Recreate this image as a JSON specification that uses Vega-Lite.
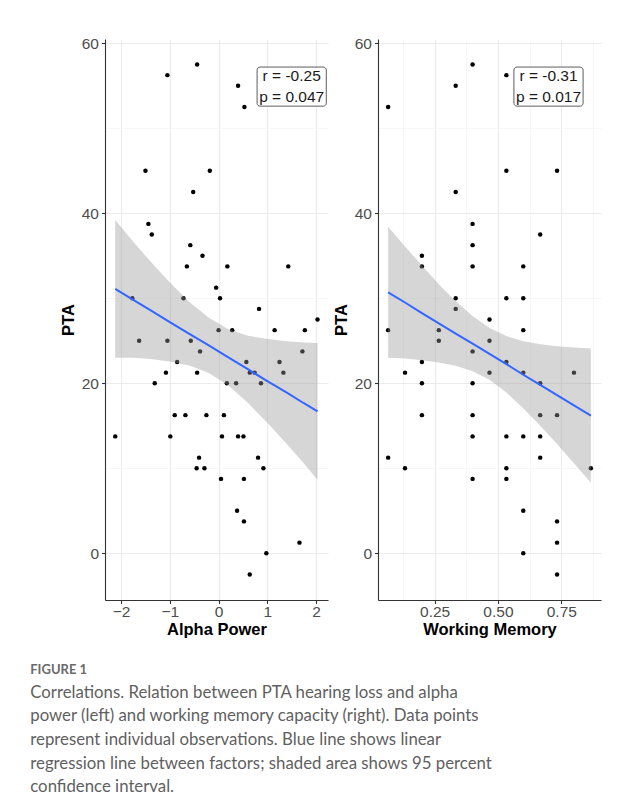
{
  "$schema": "https://vega.github.io/schema/vega-lite/v6.json",
  "background": "white",
  "padding": {"left": 30, "top": 36, "right": 5, "bottom": 10},
  "spacing": 5,
  "title": {
    "text": "FIGURE 1",
    "subtitle": [
      "Correlations. Relation between PTA hearing loss and alpha",
      "power (left) and working memory capacity (right). Data points",
      "represent individual observations. Blue line shows linear",
      "regression line between factors; shaded area shows 95 percent",
      "confidence interval."
    ],
    "orient": "bottom",
    "anchor": "start",
    "dx": -30,
    "offset": 26,
    "font": "Lato",
    "fontSize": 13,
    "fontWeight": "bold",
    "color": "#6a6a6a",
    "subtitleFont": "Lato",
    "subtitleFontSize": 16.8,
    "subtitleColor": "#5f5f5f",
    "subtitleLineHeight": 23.7,
    "subtitlePadding": 8
  },
  "datasets": {
    "alpha": [
      {"alpha": -1.05, "pta": 56.25}, {"alpha": -0.44, "pta": 57.5}, {"alpha": 0.40, "pta": 55},
      {"alpha": 0.53, "pta": 52.5}, {"alpha": -1.50, "pta": 45}, {"alpha": -0.18, "pta": 45},
      {"alpha": -0.52, "pta": 42.5}, {"alpha": -1.44, "pta": 38.75}, {"alpha": -1.37, "pta": 37.5},
      {"alpha": -0.58, "pta": 36.25}, {"alpha": -0.33, "pta": 35}, {"alpha": -0.65, "pta": 33.75},
      {"alpha": 0.18, "pta": 33.75}, {"alpha": 1.43, "pta": 33.75}, {"alpha": -0.05, "pta": 31.25},
      {"alpha": -1.77, "pta": 30}, {"alpha": -0.72, "pta": 30}, {"alpha": 0.03, "pta": 30},
      {"alpha": 0.83, "pta": 28.75}, {"alpha": 2.03, "pta": 27.5}, {"alpha": 0.00, "pta": 26.25},
      {"alpha": 0.28, "pta": 26.25}, {"alpha": 1.15, "pta": 26.25}, {"alpha": 1.77, "pta": 26.25},
      {"alpha": -1.63, "pta": 25}, {"alpha": -1.05, "pta": 25}, {"alpha": -0.57, "pta": 25},
      {"alpha": -0.38, "pta": 23.75}, {"alpha": 1.72, "pta": 23.75}, {"alpha": -0.85, "pta": 22.5},
      {"alpha": 0.57, "pta": 22.5}, {"alpha": 1.25, "pta": 22.5}, {"alpha": -1.08, "pta": 21.25},
      {"alpha": -0.44, "pta": 21.25}, {"alpha": 0.64, "pta": 21.25}, {"alpha": 0.74, "pta": 21.25},
      {"alpha": 1.33, "pta": 21.25}, {"alpha": -1.31, "pta": 20}, {"alpha": 0.17, "pta": 20},
      {"alpha": 0.36, "pta": 20}, {"alpha": 0.87, "pta": 20}, {"alpha": -0.90, "pta": 16.25},
      {"alpha": -0.68, "pta": 16.25}, {"alpha": -0.25, "pta": 16.25}, {"alpha": 0.11, "pta": 16.25},
      {"alpha": -2.12, "pta": 13.75}, {"alpha": -0.99, "pta": 13.75}, {"alpha": 0.07, "pta": 13.75},
      {"alpha": 0.40, "pta": 13.75}, {"alpha": 0.51, "pta": 13.75}, {"alpha": -0.40, "pta": 11.25},
      {"alpha": 0.81, "pta": 11.25}, {"alpha": -0.45, "pta": 10}, {"alpha": -0.29, "pta": 10},
      {"alpha": 0.92, "pta": 10}, {"alpha": 0.05, "pta": 8.75}, {"alpha": 0.52, "pta": 8.75},
      {"alpha": 0.38, "pta": 5}, {"alpha": 0.52, "pta": 3.75}, {"alpha": 1.66, "pta": 1.25},
      {"alpha": 0.98, "pta": 0}, {"alpha": 0.64, "pta": -2.5}
    ],
    "wm": [
      {"wm": 0.0667, "pta": 52.5}, {"wm": 0.3333, "pta": 55}, {"wm": 0.4, "pta": 57.5},
      {"wm": 0.5333, "pta": 56.25}, {"wm": 0.5333, "pta": 45}, {"wm": 0.7333, "pta": 45},
      {"wm": 0.3333, "pta": 42.5}, {"wm": 0.4, "pta": 38.75}, {"wm": 0.6667, "pta": 37.5},
      {"wm": 0.4, "pta": 36.25}, {"wm": 0.2, "pta": 35}, {"wm": 0.2, "pta": 33.75},
      {"wm": 0.4, "pta": 33.75}, {"wm": 0.6, "pta": 33.75}, {"wm": 0.3333, "pta": 30},
      {"wm": 0.5333, "pta": 30}, {"wm": 0.6, "pta": 30}, {"wm": 0.3333, "pta": 28.75},
      {"wm": 0.4667, "pta": 27.5}, {"wm": 0.0667, "pta": 26.25}, {"wm": 0.2667, "pta": 26.25},
      {"wm": 0.6, "pta": 26.25}, {"wm": 0.2667, "pta": 25}, {"wm": 0.4667, "pta": 25},
      {"wm": 0.4, "pta": 23.75}, {"wm": 0.2, "pta": 22.5}, {"wm": 0.5333, "pta": 22.5},
      {"wm": 0.1333, "pta": 21.25}, {"wm": 0.4667, "pta": 21.25}, {"wm": 0.6, "pta": 21.25},
      {"wm": 0.8, "pta": 21.25}, {"wm": 0.2, "pta": 20}, {"wm": 0.4, "pta": 20},
      {"wm": 0.6667, "pta": 20}, {"wm": 0.2, "pta": 16.25}, {"wm": 0.4, "pta": 16.25},
      {"wm": 0.6667, "pta": 16.25}, {"wm": 0.7333, "pta": 16.25}, {"wm": 0.4, "pta": 13.75},
      {"wm": 0.5333, "pta": 13.75}, {"wm": 0.6, "pta": 13.75}, {"wm": 0.6667, "pta": 13.75},
      {"wm": 0.0667, "pta": 11.25}, {"wm": 0.6667, "pta": 11.25}, {"wm": 0.1333, "pta": 10},
      {"wm": 0.5333, "pta": 10}, {"wm": 0.8667, "pta": 10}, {"wm": 0.4, "pta": 8.75},
      {"wm": 0.5333, "pta": 8.75}, {"wm": 0.6, "pta": 5}, {"wm": 0.7333, "pta": 3.75},
      {"wm": 0.7333, "pta": 1.25}, {"wm": 0.6, "pta": 0}, {"wm": 0.7333, "pta": -2.5}
    ],
    "fitA": [
      {"x": -2.12, "fit": 31.1, "lo": 23.0, "hi": 39.2},
      {"x": -1.75, "fit": 29.8, "lo": 23.0, "hi": 36.65},
      {"x": -1.4, "fit": 28.6, "lo": 22.85, "hi": 34.35},
      {"x": -1.0, "fit": 27.2, "lo": 22.55, "hi": 31.85},
      {"x": -0.6, "fit": 25.8, "lo": 22.1, "hi": 29.55},
      {"x": -0.2, "fit": 24.45, "lo": 21.2, "hi": 27.7},
      {"x": 0.2, "fit": 23.05, "lo": 19.75, "hi": 26.35},
      {"x": 0.6, "fit": 21.65, "lo": 17.7, "hi": 25.6},
      {"x": 1.0, "fit": 20.25, "lo": 15.35, "hi": 25.2},
      {"x": 1.4, "fit": 18.9, "lo": 12.85, "hi": 24.95},
      {"x": 1.75, "fit": 17.65, "lo": 10.55, "hi": 24.8},
      {"x": 2.03, "fit": 16.7, "lo": 8.65, "hi": 24.75}
    ],
    "fitW": [
      {"x": 0.0667, "fit": 30.7, "lo": 23.0, "hi": 38.4},
      {"x": 0.1333, "fit": 29.5, "lo": 22.9, "hi": 36.1},
      {"x": 0.2, "fit": 28.25, "lo": 22.7, "hi": 33.85},
      {"x": 0.2667, "fit": 27.05, "lo": 22.45, "hi": 31.65},
      {"x": 0.3333, "fit": 25.85, "lo": 22.05, "hi": 29.65},
      {"x": 0.4, "fit": 24.65, "lo": 21.4, "hi": 27.9},
      {"x": 0.4667, "fit": 23.45, "lo": 20.4, "hi": 26.5},
      {"x": 0.5333, "fit": 22.25, "lo": 18.9, "hi": 25.55},
      {"x": 0.6, "fit": 21.0, "lo": 17.05, "hi": 24.95},
      {"x": 0.6667, "fit": 19.8, "lo": 15.0, "hi": 24.6},
      {"x": 0.7333, "fit": 18.6, "lo": 12.85, "hi": 24.35},
      {"x": 0.8, "fit": 17.4, "lo": 10.6, "hi": 24.2},
      {"x": 0.8667, "fit": 16.2, "lo": 8.3, "hi": 24.1}
    ],
    "labA": [{"label": "r = -0.25\np = 0.047", "lx": 1.5, "ly": 56.1, "x1": 0.79, "x2": 2.21, "y1": 52.6, "y2": 57.2}],
    "labW": [{"label": "r = -0.31\np = 0.017", "lx": 0.6995, "ly": 56.1, "x1": 0.563, "x2": 0.836, "y1": 52.6, "y2": 57.2}]
  },
  "hconcat": [
    {
      "width": 223,
      "height": 561,
      "layer": [
        {
          "data": {"name": "alpha"},
          "mark": {"type": "point", "filled": true, "size": 20, "color": "black", "opacity": 1},
          "encoding": {
            "x": {
              "field": "alpha", "type": "quantitative", "title": "Alpha Power",
              "scale": {"domain": [-2.33, 2.245], "nice": false, "zero": false},
              "axis": {
                "values": [-2, -1.5, -1, -0.5, 0, 0.5, 1, 1.5, 2],
                "labelExpr": "datum.value % 1 === 0 ? datum.label : ''",
                "gridColor": {"condition": {"test": "datum.value % 1 === 0", "value": "#EBEBEB"}, "value": "#F3F3F3"},
                "gridWidth": {"condition": {"test": "datum.value % 1 === 0", "value": 1.1}, "value": 0.7},
                "tickOpacity": {"condition": {"test": "datum.value % 1 === 0", "value": 1}, "value": 0}
              }
            },
            "y": {
              "field": "pta", "type": "quantitative", "title": "PTA",
              "scale": {"domain": [-5.5, 60.5], "nice": false, "zero": false},
              "axis": {
                "values": [0, 10, 20, 30, 40, 50, 60],
                "labelExpr": "datum.value % 20 === 0 ? datum.label : ''",
                "gridColor": {"condition": {"test": "datum.value % 20 === 0", "value": "#EBEBEB"}, "value": "#F3F3F3"},
                "gridWidth": {"condition": {"test": "datum.value % 20 === 0", "value": 1.1}, "value": 0.7},
                "tickOpacity": {"condition": {"test": "datum.value % 20 === 0", "value": 1}, "value": 0}
              }
            }
          }
        },
        {
          "data": {"name": "fitA"},
          "mark": {"type": "area", "color": "#999999", "opacity": 0.4},
          "encoding": {
            "x": {"field": "x", "type": "quantitative"},
            "y": {"field": "lo", "type": "quantitative"},
            "y2": {"field": "hi"}
          }
        },
        {
          "data": {"name": "fitA"},
          "mark": {"type": "line", "color": "#3366FF", "strokeWidth": 2},
          "encoding": {
            "x": {"field": "x", "type": "quantitative"},
            "y": {"field": "fit", "type": "quantitative"}
          }
        },
        {
          "data": {"name": "labA"},
          "mark": {"type": "rect", "fill": "white", "stroke": "#333333", "strokeWidth": 0.8, "cornerRadius": 3},
          "encoding": {
            "x": {"field": "x1", "type": "quantitative"},
            "x2": {"field": "x2"},
            "y": {"field": "y1", "type": "quantitative"},
            "y2": {"field": "y2"}
          }
        },
        {
          "data": {"name": "labA"},
          "mark": {"type": "text", "lineBreak": "\n", "lineHeight": 21, "font": "Liberation Sans", "fontSize": 15.5, "color": "#1a1a1a", "align": "center", "baseline": "middle"},
          "encoding": {
            "x": {"field": "lx", "type": "quantitative"},
            "y": {"field": "ly", "type": "quantitative"},
            "text": {"field": "label", "type": "nominal"}
          }
        }
      ]
    },
    {
      "width": 223,
      "height": 561,
      "resolve": {"axis": {"x": "independent"}},
      "layer": [
        {
          "data": {"name": "wm"},
          "mark": {"type": "point", "filled": true, "size": 20, "color": "black", "opacity": 1},
          "encoding": {
            "x": {
              "field": "wm", "type": "quantitative", "title": "Working Memory",
              "scale": {"domain": [0.0267, 0.9067], "nice": false, "zero": false},
              "axis": {
                "orient": "bottom",
                "values": [0.25, 0.5, 0.75],
                "format": ".2f",
                "gridColor": "#EBEBEB",
                "gridWidth": 1.1
              }
            },
            "y": {
              "field": "pta", "type": "quantitative", "title": "PTA",
              "scale": {"domain": [-5.5, 60.5], "nice": false, "zero": false},
              "axis": {
                "values": [0, 10, 20, 30, 40, 50, 60],
                "labelExpr": "datum.value % 20 === 0 ? datum.label : ''",
                "gridColor": {"condition": {"test": "datum.value % 20 === 0", "value": "#EBEBEB"}, "value": "#F3F3F3"},
                "gridWidth": {"condition": {"test": "datum.value % 20 === 0", "value": 1.1}, "value": 0.7},
                "tickOpacity": {"condition": {"test": "datum.value % 20 === 0", "value": 1}, "value": 0}
              }
            }
          }
        },
        {
          "data": {"name": "fitW"},
          "mark": {"type": "area", "color": "#999999", "opacity": 0.4},
          "encoding": {
            "x": {
              "field": "x", "type": "quantitative",
              "axis": {
                "orient": "bottom",
                "values": [0.125, 0.375, 0.625, 0.875],
                "grid": true,
                "gridColor": "#F3F3F3",
                "gridWidth": 0.7,
                "labels": false,
                "ticks": false,
                "domain": false,
                "title": null
              }
            },
            "y": {"field": "lo", "type": "quantitative"},
            "y2": {"field": "hi"}
          }
        },
        {
          "data": {"name": "fitW"},
          "mark": {"type": "line", "color": "#3366FF", "strokeWidth": 2},
          "encoding": {
            "x": {"field": "x", "type": "quantitative", "axis": null},
            "y": {"field": "fit", "type": "quantitative"}
          }
        },
        {
          "data": {"name": "labW"},
          "mark": {"type": "rect", "fill": "white", "stroke": "#333333", "strokeWidth": 0.8, "cornerRadius": 3},
          "encoding": {
            "x": {"field": "x1", "type": "quantitative", "axis": null},
            "x2": {"field": "x2"},
            "y": {"field": "y1", "type": "quantitative"},
            "y2": {"field": "y2"}
          }
        },
        {
          "data": {"name": "labW"},
          "mark": {"type": "text", "lineBreak": "\n", "lineHeight": 21, "font": "Liberation Sans", "fontSize": 15.5, "color": "#1a1a1a", "align": "center", "baseline": "middle"},
          "encoding": {
            "x": {"field": "lx", "type": "quantitative", "axis": null},
            "y": {"field": "ly", "type": "quantitative"},
            "text": {"field": "label", "type": "nominal"}
          }
        }
      ]
    }
  ],
  "config": {
    "view": {"stroke": null},
    "axis": {
      "labelFont": "Liberation Sans",
      "labelFontSize": 15.5,
      "labelColor": "#4D4D4D",
      "labelOverlap": false,
      "titleFont": "Liberation Sans",
      "titleFontSize": 16.5,
      "titleFontWeight": "bold",
      "titleColor": "black",
      "domainColor": "#333333",
      "domainWidth": 1.1,
      "tickColor": "#333333",
      "tickWidth": 1.1,
      "tickSize": 3.5,
      "grid": true
    },
    "axisX": {"titlePadding": 1, "labelPadding": 1},
    "axisY": {"titlePadding": 5, "labelPadding": 3}
  }
}
